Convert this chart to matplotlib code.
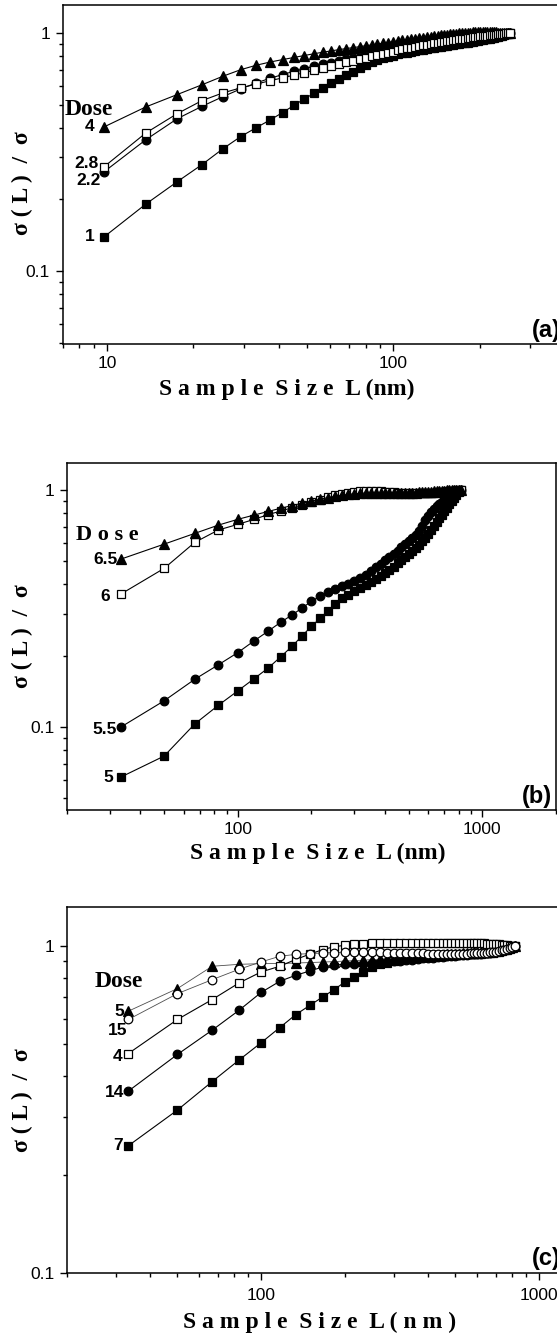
import numpy as np
import matplotlib
matplotlib.use('Agg')
import matplotlib.pyplot as plt
from matplotlib.ticker import LogLocator, NullFormatter, FixedLocator, FuncFormatter

SERIF = ['Liberation Serif', 'DejaVu Serif']
SANS = ['Liberation Sans', 'DejaVu Sans']
plt.rcParams['font.family'] = SANS

# ---------------- data: panel (a) ----------------
L_A = [9.77, 13.67, 17.58, 21.48, 25.39, 29.30, 33.20, 37.11, 41.02, 44.92,
       48.83, 52.73, 56.64, 60.55, 64.45, 68.36, 72.27, 76.17, 80.08, 83.98,
       87.89, 91.80, 95.70, 99.61, 103.52, 107.42, 111.33, 115.23, 119.14, 123.05,
       126.95, 130.86, 134.77, 138.67, 142.58, 146.48, 150.39, 154.30, 158.20, 162.11,
       166.02, 169.92, 173.83, 177.73, 181.64, 185.55, 189.45, 193.36, 197.27, 201.17,
       205.08, 208.98, 212.89, 216.80, 220.70, 224.61, 228.52, 232.42, 236.33, 240.23,
       244.14, 248.05, 251.95, 255.86]

A_dose4 = [0.403, 0.489, 0.551, 0.606, 0.658, 0.701, 0.732, 0.755, 0.773, 0.789,
           0.804, 0.818, 0.830, 0.841, 0.851, 0.860, 0.868, 0.876, 0.884, 0.891,
           0.898, 0.905, 0.912, 0.919, 0.925, 0.931, 0.937, 0.942, 0.947, 0.952,
           0.957, 0.962, 0.966, 0.970, 0.974, 0.978, 0.982, 0.985, 0.988, 0.991,
           0.994, 0.996, 0.998, 1.000, 1.002, 1.004, 1.005, 1.006, 1.007, 1.008,
           1.008, 1.008, 1.008, 1.008, 1.007, 1.006, 1.005, 1.004, 1.003, 1.002,
           1.001, 1.000, 1.000, 1.000]
A_dose28 = [0.274, 0.380, 0.458, 0.520, 0.560, 0.588, 0.610, 0.630, 0.648, 0.665,
            0.681, 0.696, 0.711, 0.725, 0.739, 0.752, 0.764, 0.776, 0.787, 0.798,
            0.808, 0.818, 0.827, 0.836, 0.845, 0.853, 0.861, 0.868, 0.875, 0.882,
            0.888, 0.894, 0.900, 0.905, 0.910, 0.915, 0.920, 0.925, 0.929, 0.933,
            0.937, 0.941, 0.945, 0.948, 0.952, 0.955, 0.958, 0.961, 0.964, 0.967,
            0.970, 0.972, 0.975, 0.977, 0.980, 0.982, 0.985, 0.987, 0.990, 0.992,
            0.994, 0.996, 0.998, 1.000]
A_dose22 = [0.261, 0.356, 0.436, 0.492, 0.540, 0.582, 0.617, 0.645, 0.669, 0.690,
            0.708, 0.724, 0.738, 0.751, 0.763, 0.774, 0.784, 0.794, 0.803, 0.811,
            0.819, 0.826, 0.833, 0.839, 0.845, 0.851, 0.857, 0.863, 0.869, 0.875,
            0.881, 0.887, 0.893, 0.898, 0.903, 0.908, 0.913, 0.918, 0.922, 0.926,
            0.930, 0.934, 0.938, 0.942, 0.946, 0.949, 0.953, 0.956, 0.959, 0.962,
            0.965, 0.968, 0.971, 0.974, 0.977, 0.979, 0.982, 0.984, 0.987, 0.989,
            0.992, 0.994, 0.997, 1.000]
A_dose1 = [0.139, 0.191, 0.237, 0.280, 0.326, 0.367, 0.400, 0.431, 0.463, 0.496,
           0.528, 0.557, 0.587, 0.614, 0.641, 0.665, 0.689, 0.712, 0.733, 0.752,
           0.768, 0.782, 0.794, 0.804, 0.813, 0.821, 0.828, 0.835, 0.841, 0.847,
           0.852, 0.857, 0.862, 0.867, 0.872, 0.876, 0.880, 0.884, 0.888, 0.892,
           0.896, 0.900, 0.904, 0.908, 0.912, 0.916, 0.920, 0.924, 0.928, 0.932,
           0.936, 0.940, 0.944, 0.948, 0.952, 0.956, 0.961, 0.966, 0.971, 0.976,
           0.981, 0.987, 0.993, 1.000]

# ---------------- data: panels (b), (c) ----------------
L_BC = [33.3, 50.0, 66.7, 83.3, 100.0, 116.7, 133.3, 150.0, 166.7, 183.3,
        200.0, 216.7, 233.3, 250.0, 266.7, 283.3, 300.0, 316.7, 333.3, 350.0,
        366.7, 383.3, 400.0, 416.7, 433.3, 450.0, 466.7, 483.3, 500.0, 516.7,
        533.3, 550.0, 566.7, 583.3, 600.0, 616.7, 633.3, 650.0, 666.7, 683.3,
        700.0, 716.7, 733.3, 750.0, 766.7, 783.3, 800.0, 816.7]

B_dose65 = [0.511, 0.591, 0.656, 0.711, 0.752, 0.784, 0.812, 0.838, 0.860, 0.880,
            0.898, 0.914, 0.928, 0.940, 0.950, 0.958, 0.964, 0.968, 0.971, 0.973,
            0.974, 0.974, 0.974, 0.973, 0.972, 0.971, 0.971, 0.971, 0.972, 0.973,
            0.975, 0.977, 0.979, 0.981, 0.983, 0.985, 0.987, 0.989, 0.991, 0.993,
            0.995, 0.997, 0.999, 1.001, 1.003, 1.004, 1.003, 1.000]
B_dose6 = [0.364, 0.467, 0.601, 0.678, 0.716, 0.752, 0.788, 0.815, 0.842, 0.866,
           0.889, 0.910, 0.930, 0.948, 0.963, 0.975, 0.983, 0.988, 0.990, 0.990,
           0.989, 0.987, 0.984, 0.981, 0.978, 0.975, 0.972, 0.970, 0.968, 0.967,
           0.967, 0.967, 0.968, 0.969, 0.970, 0.972, 0.974, 0.976, 0.978, 0.980,
           0.983, 0.986, 0.989, 0.992, 0.995, 0.997, 0.999, 1.000]
B_dose55 = [0.100, 0.129, 0.159, 0.183, 0.206, 0.231, 0.254, 0.277, 0.297, 0.318,
            0.339, 0.356, 0.370, 0.382, 0.393, 0.403, 0.412, 0.425, 0.440, 0.455,
            0.471, 0.488, 0.505, 0.521, 0.538, 0.555, 0.572, 0.590, 0.608, 0.627,
            0.648, 0.672, 0.705, 0.745, 0.775, 0.805, 0.830, 0.852, 0.872, 0.892,
            0.910, 0.928, 0.944, 0.960, 0.974, 0.986, 0.995, 1.000]
B_dose5 = [0.0615, 0.0754, 0.103, 0.1235, 0.142, 0.160, 0.1775, 0.198, 0.219, 0.2425,
           0.266, 0.287, 0.309, 0.330, 0.349, 0.362, 0.374, 0.386, 0.398, 0.410,
           0.422, 0.435, 0.448, 0.461, 0.475, 0.490, 0.505, 0.520, 0.536, 0.552,
           0.569, 0.587, 0.607, 0.630, 0.655, 0.680, 0.706, 0.733, 0.760, 0.788,
           0.815, 0.843, 0.871, 0.898, 0.925, 0.952, 0.977, 1.000]

C_dose7 = [0.245, 0.315, 0.385, 0.448, 0.506, 0.563, 0.617, 0.659, 0.699, 0.736,
           0.776, 0.804, 0.833, 0.860, 0.878, 0.890, 0.900, 0.907, 0.913, 0.918,
           0.922, 0.926, 0.929, 0.932, 0.934, 0.936, 0.938, 0.940, 0.941, 0.942,
           0.943, 0.944, 0.945, 0.946, 0.947, 0.948, 0.949, 0.950, 0.952, 0.954,
           0.957, 0.960, 0.964, 0.969, 0.975, 0.982, 0.990, 1.000]
C_dose14 = [0.360, 0.466, 0.553, 0.636, 0.721, 0.780, 0.814, 0.839, 0.863, 0.875,
            0.879, 0.881, 0.883, 0.886, 0.889, 0.893, 0.897, 0.901, 0.905, 0.909,
            0.913, 0.916, 0.919, 0.922, 0.925, 0.928, 0.930, 0.932, 0.934, 0.936,
            0.938, 0.940, 0.942, 0.944, 0.946, 0.948, 0.950, 0.952, 0.954, 0.957,
            0.960, 0.963, 0.967, 0.972, 0.978, 0.985, 0.992, 1.000]
C_dose5 = [0.632, 0.741, 0.867, 0.879, 0.883, 0.884, 0.887, 0.890, 0.893, 0.896,
           0.899, 0.902, 0.905, 0.908, 0.911, 0.914, 0.917, 0.920, 0.923, 0.926,
           0.929, 0.932, 0.934, 0.936, 0.938, 0.940, 0.942, 0.944, 0.946, 0.948,
           0.950, 0.952, 0.954, 0.956, 0.958, 0.960, 0.962, 0.964, 0.966, 0.968,
           0.971, 0.974, 0.977, 0.981, 0.985, 0.990, 0.995, 1.000]
C_dose4 = [0.469, 0.596, 0.686, 0.771, 0.833, 0.867, 0.910, 0.945, 0.975, 0.995,
           1.005, 1.012, 1.016, 1.018, 1.019, 1.020, 1.020, 1.020, 1.020, 1.020,
           1.020, 1.020, 1.020, 1.020, 1.020, 1.020, 1.020, 1.020, 1.020, 1.020,
           1.020, 1.020, 1.020, 1.020, 1.020, 1.019, 1.018, 1.017, 1.016, 1.015,
           1.013, 1.011, 1.009, 1.007, 1.005, 1.003, 1.001, 1.000]
C_dose15 = [0.596, 0.715, 0.789, 0.849, 0.894, 0.930, 0.943, 0.948, 0.952, 0.955,
            0.957, 0.958, 0.958, 0.957, 0.956, 0.955, 0.954, 0.953, 0.952, 0.951,
            0.950, 0.949, 0.948, 0.948, 0.947, 0.947, 0.947, 0.947, 0.947, 0.947,
            0.948, 0.948, 0.949, 0.950, 0.951, 0.952, 0.953, 0.955, 0.957, 0.959,
            0.962, 0.965, 0.969, 0.974, 0.979, 0.985, 0.992, 1.000]

# ---------------- figure ----------------
W, H = 557, 1342
fig = plt.figure(figsize=(W / 100, H / 100), dpi=100)


def fx(x):
    return x / W


def fy(y):
    return 1 - y / H


def make_axes(left, xdec, xlim, top, bottom, y1px, ydec, xmaj, xpad=4):
    width = xdec * np.log10(xlim[1] / xlim[0])
    ax = fig.add_axes([fx(left), fy(bottom), width / W, (bottom - top) / H])
    ax.set_xscale('log')
    ax.set_yscale('log')
    ax.set_xlim(*xlim)
    ax.set_ylim(10 ** (-(bottom - y1px) / ydec), 10 ** ((y1px - top) / ydec))
    ax.xaxis.set_major_locator(FixedLocator(xmaj))
    ax.yaxis.set_major_locator(FixedLocator([0.1, 1]))
    fmt = FuncFormatter(lambda v, p: '%g' % v)
    ax.xaxis.set_major_formatter(fmt)
    ax.yaxis.set_major_formatter(fmt)
    ax.xaxis.set_minor_locator(LogLocator(base=10, subs=np.arange(2, 10), numticks=30))
    ax.yaxis.set_minor_locator(LogLocator(base=10, subs=np.arange(2, 10), numticks=30))
    ax.xaxis.set_minor_formatter(NullFormatter())
    ax.yaxis.set_minor_formatter(NullFormatter())
    ax.tick_params(which='both', direction='out', top=False, right=False, width=1.0)
    ax.tick_params(which='major', length=5, pad=4, labelsize=12.5)
    ax.tick_params(axis='x', which='major', pad=xpad)
    ax.tick_params(which='minor', length=3)
    for sp in ax.spines.values():
        sp.set_linewidth(1.1)
    return ax


def series(ax, x, y, marker, filled, ms, lw=0.8, lc='k'):
    ax.plot(x, y, color=lc, lw=lw, marker=marker, ms=ms,
            mfc='k' if filled else 'w', mec='k', mew=0.9, clip_on=False)


def lab(ax, x, y, text, dx, dy, ha='right', fs=12.5, family=SANS):
    ax.annotate(text, xy=(x, y), xytext=(dx, dy), textcoords='offset points',
                ha=ha, va='center', fontsize=fs, fontweight='bold', family=family)


XLAB = 'S a m p l e  S i z e  L (nm)'
YLAB = 'σ ( L )  /  σ'

# ---- panel (a) ----
axA = make_axes(62.5, 286.5, (7, 700), 5, 344, 33, 238, [10, 100])
series(axA, L_A, A_dose1, 's', True, 6)
series(axA, L_A, A_dose4, '^', True, 7)
series(axA, L_A, A_dose22, 'o', True, 6.3)
series(axA, L_A, A_dose28, 's', False, 6)
lab(axA, L_A[0], A_dose4[0], 'Dose', -11, 12.5, ha='center', fs=17, family=SERIF)
lab(axA, L_A[0], A_dose4[0], '4', -7, 0)
lab(axA, L_A[0], A_dose28[0], '2.8', -3.5, 2.5)
lab(axA, L_A[0], A_dose22[0], '2.2', -2, -6)
lab(axA, L_A[0], A_dose1[0], '1', -6.5, 0)
fig.text(fx(561), fy(342), '(a)', ha='right', va='bottom', fontsize=17, fontweight='bold')
fig.text(fx(287), fy(389), XLAB, ha='center', va='center', fontsize=17,
         fontweight='bold', family=SERIF)
fig.text(fx(22), fy(183), YLAB, ha='center', va='center', rotation=90,
         fontsize=17, fontweight='bold', family=SERIF)

# ---- panel (b) ----
axB = make_axes(66.8, 244.6, (20, 2000), 463, 810, 490, 237, [100, 1000])
series(axB, L_BC, B_dose5, 's', True, 5.8)
series(axB, L_BC, B_dose55, 'o', True, 6.2)
series(axB, L_BC, B_dose6, 's', False, 5.8)
series(axB, L_BC, B_dose65, '^', True, 6.8)
lab(axB, L_BC[0], B_dose65[0], 'D o s e', -10, 17.5, ha='center', fs=16, family=SERIF)
lab(axB, L_BC[0], B_dose65[0], '6.5', -2.6, 0)
lab(axB, L_BC[0], B_dose6[0], '6', -7.7, -2)
lab(axB, L_BC[0], B_dose55[0], '5.5', -3.1, -2)
lab(axB, L_BC[0], B_dose5[0], '5', -5.7, 0)
fig.text(fx(552), fy(808), '(b)', ha='right', va='bottom', fontsize=17, fontweight='bold')
fig.text(fx(318), fy(853), XLAB, ha='center', va='center', fontsize=17,
         fontweight='bold', family=SERIF)
fig.text(fx(22), fy(636), YLAB, ha='center', va='center', rotation=90,
         fontsize=17, fontweight='bold', family=SERIF)

# ---- panel (c) ----
axC = make_axes(66.8, 278, (20, 2000), 907, 1273, 946, 327, [100, 1000], xpad=6)
series(axC, L_BC, C_dose7, 's', True, 5.8)
series(axC, L_BC, C_dose14, 'o', True, 6.2)
series(axC, L_BC, C_dose5, '^', True, 6.8, lw=0.6, lc='0.3')
series(axC, L_BC, C_dose4, 's', False, 5.8)
series(axC, L_BC, C_dose15, 'o', False, 6.2, lw=0.6, lc='0.3')
lab(axC, L_BC[0], C_dose5[0], 'Dose', -7, 21, ha='center', fs=17, family=SERIF)
lab(axC, L_BC[0], C_dose5[0], '5', -3.3, 0)
lab(axC, L_BC[0], C_dose15[0], '15', -0.7, -8)
lab(axC, L_BC[0], C_dose4[0], '4', -4.1, -2)
lab(axC, L_BC[0], C_dose14[0], '14', -3.3, -1)
lab(axC, L_BC[0], C_dose7[0], '7', -3.9, 0)
fig.text(fx(561), fy(1270), '(c)', ha='right', va='bottom', fontsize=17, fontweight='bold')
fig.text(fx(320), fy(1322), 'S a m p l e  S i z e  L ( n m )', ha='center', va='center',
         fontsize=17, fontweight='bold', family=SERIF)
fig.text(fx(22), fy(1100), YLAB, ha='center', va='center', rotation=90,
         fontsize=17, fontweight='bold', family=SERIF)

fig.savefig('out.png', dpi=100)
